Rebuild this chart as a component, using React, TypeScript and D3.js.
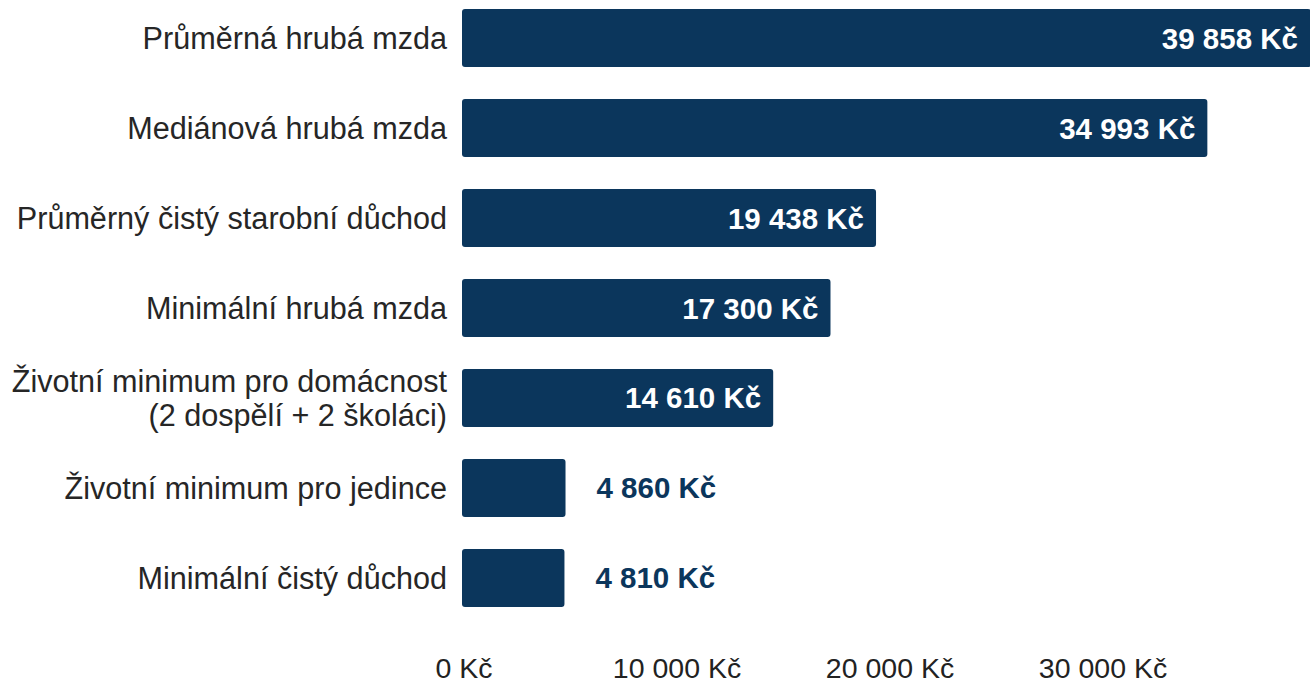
import * as d3 from "d3";

// data
const categories = [
  "Průměrná hrubá mzda",
  "Mediánová hrubá mzda",
  "Průměrný čistý starobní důchod",
  "Minimální hrubá mzda",
  "Životní minimum pro domácnost|(2 dospělí + 2 školáci)",
  "Životní minimum pro jedince",
  "Minimální čistý důchod",
];
const values = [39858, 34993, 19438, 17300, 14610, 4860, 4810];
const tickValues = [0, 10000, 20000, 30000];

const width = 1310;
const height = 686;
const barColor = "#0b365c";
const font = "'Liberation Sans', Arial, sans-serif";

const fmt = (v: number) => d3.format(",")(v).replace(/,/g, " ") + " Kč";

export default function App() {
  const x = d3.scaleLinear().domain([0, 40000]).range([462, 1314]);
  const y = d3
    .scaleBand<string>()
    .domain(categories)
    .range([-23, 639])
    .paddingInner(0.356)
    .paddingOuter(0.356);
  const bw = y.bandwidth();

  return (
    <div>
      <style>{"body{margin:0}"}</style>
      <svg width={width} height={height} style={{ display: "block" }}>
        <rect width={width} height={height} fill="#fff" />
        {categories.map((c, i) => {
          const y0 = y(c)!;
          const cy = y0 + bw / 2;
          const v = values[i];
          const x1 = x(v);
          const inside = x1 - x(0) > 200;
          const lines = c.split("|");
          return (
            <g key={c}>
              <rect
                x={x(0)}
                y={y0}
                width={x1 - x(0)}
                height={bw}
                rx={3}
                fill={barColor}
              />
              {lines.map((l, j) => (
                <text
                  key={j}
                  x={447}
                  y={cy + (j - (lines.length - 1) / 2) * 34}
                  textAnchor="end"
                  dominantBaseline="central"
                  fontFamily={font}
                  fontSize={30.6}
                  fill="#262626"
                >
                  {l}
                </text>
              ))}
              <text
                x={inside ? Math.min(x1, width) - 12 : x1 + 31}
                y={cy}
                textAnchor={inside ? "end" : "start"}
                dominantBaseline="central"
                fontFamily={font}
                fontWeight="bold"
                fontSize={29.5}
                fill={inside ? "#fff" : barColor}
              >
                {fmt(v)}
              </text>
            </g>
          );
        })}
        {tickValues.map((t) => (
          <text
            key={t}
            x={x(t) + 2}
            y={668}
            textAnchor="middle"
            dominantBaseline="central"
            fontFamily={font}
            fontSize={28.5}
            fill="#222"
          >
            {fmt(t)}
          </text>
        ))}
      </svg>
    </div>
  );
}
